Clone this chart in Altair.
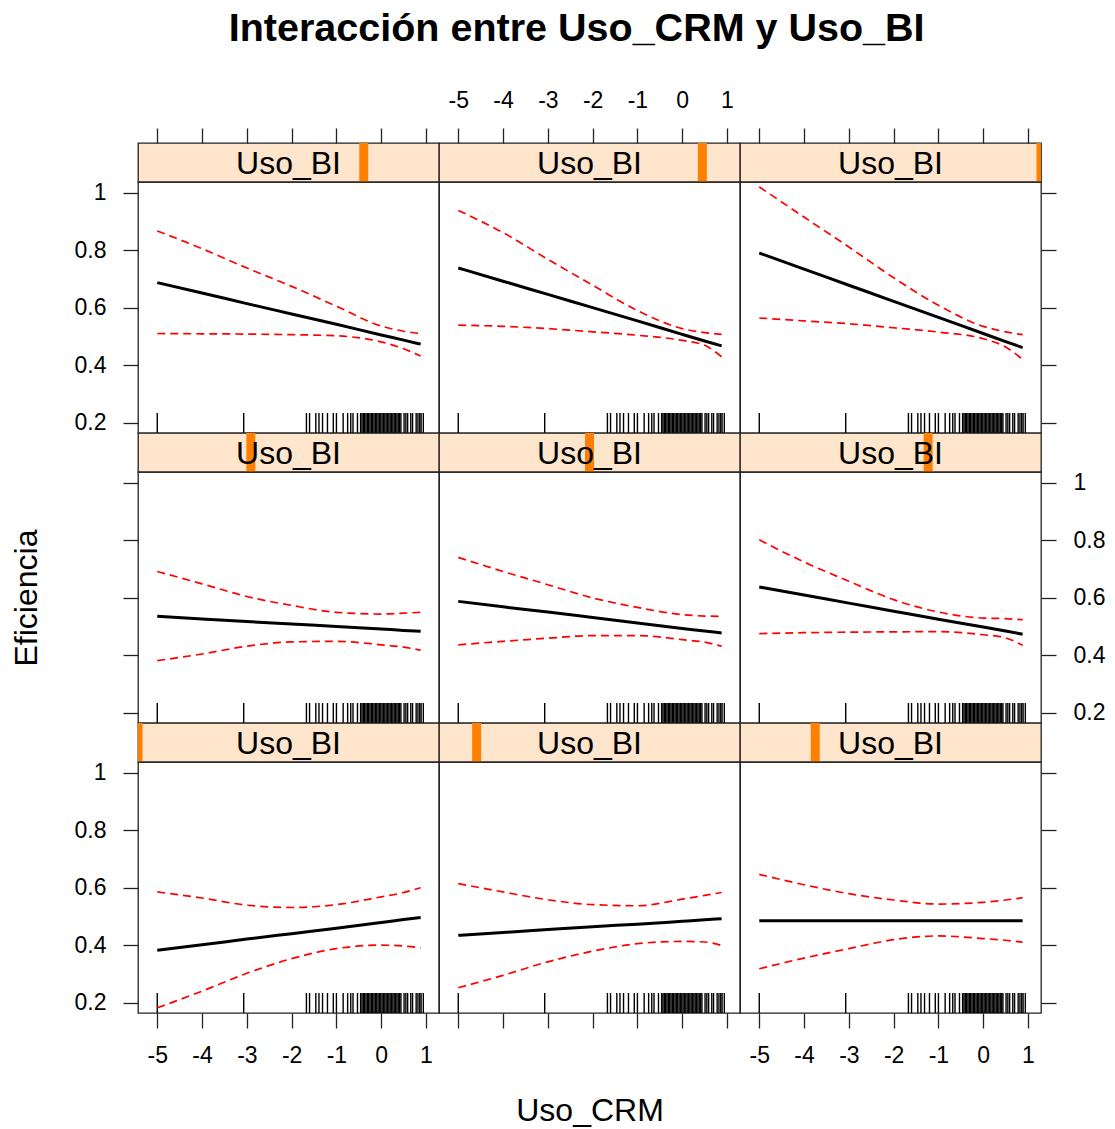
import altair as alt
import pandas as pd

title_text = "Interacción entre Uso_CRM y Uso_BI"
x_title = "Uso_CRM"
y_title = "Eficiencia"
strip_label = "Uso_BI"

# Uso_CRM evaluation points
crm_grid = [-5, -4, -3, -2, -1, 0, 0.5, 0.88]
x_ticks = [-5, -4, -3, -2, -1, 0, 1]
y_ticks = [0.2, 0.4, 0.6, 0.8, 1.0]

# panels in lattice order: bottom-left -> top-right
bi_levels = [0.0, 0.125, 0.25, 0.375, 0.5, 0.625, 0.75, 0.875, 1.0]

fit = [
    [0.383, 0.402, 0.422, 0.441, 0.460, 0.480, 0.490, 0.497],
    [0.435, 0.445, 0.455, 0.465, 0.474, 0.484, 0.489, 0.493],
    [0.486, 0.486, 0.486, 0.486, 0.486, 0.486, 0.486, 0.486],
    [0.536, 0.527, 0.518, 0.509, 0.501, 0.492, 0.487, 0.484],
    [0.588, 0.569, 0.551, 0.532, 0.513, 0.494, 0.485, 0.478],
    [0.638, 0.610, 0.582, 0.554, 0.526, 0.499, 0.485, 0.474],
    [0.688, 0.652, 0.615, 0.579, 0.543, 0.506, 0.488, 0.474],
    [0.739, 0.693, 0.647, 0.601, 0.555, 0.508, 0.485, 0.468],
    [0.791, 0.735, 0.679, 0.623, 0.567, 0.511, 0.483, 0.462],
]
upper = [
    [0.586, 0.565, 0.540, 0.532, 0.542, 0.569, 0.584, 0.601],
    [0.615, 0.586, 0.559, 0.542, 0.538, 0.561, 0.574, 0.584],
    [0.647, 0.611, 0.580, 0.558, 0.544, 0.550, 0.558, 0.566],
    [0.692, 0.649, 0.605, 0.574, 0.550, 0.544, 0.547, 0.550],
    [0.741, 0.692, 0.646, 0.600, 0.567, 0.542, 0.537, 0.536],
    [0.802, 0.725, 0.658, 0.594, 0.551, 0.530, 0.528, 0.524],
    [0.868, 0.806, 0.739, 0.675, 0.606, 0.537, 0.519, 0.511],
    [0.939, 0.862, 0.769, 0.679, 0.591, 0.528, 0.514, 0.508],
    [1.021, 0.916, 0.812, 0.705, 0.609, 0.536, 0.517, 0.507],
]
lower = [
    [0.183, 0.241, 0.303, 0.354, 0.389, 0.401, 0.398, 0.392],
    [0.253, 0.296, 0.343, 0.380, 0.406, 0.414, 0.412, 0.400],
    [0.319, 0.356, 0.389, 0.420, 0.433, 0.424, 0.418, 0.411],
    [0.382, 0.405, 0.432, 0.447, 0.449, 0.437, 0.429, 0.418],
    [0.437, 0.449, 0.460, 0.469, 0.469, 0.455, 0.446, 0.432],
    [0.476, 0.479, 0.481, 0.482, 0.483, 0.472, 0.461, 0.435],
    [0.511, 0.510, 0.509, 0.507, 0.503, 0.482, 0.458, 0.433],
    [0.540, 0.536, 0.528, 0.517, 0.505, 0.487, 0.470, 0.430],
    [0.565, 0.555, 0.545, 0.531, 0.516, 0.493, 0.464, 0.421],
]

rug_crm = [-5.0, -3.07, -1.67, -1.60, -1.46, -1.39, -1.31, -1.20, -1.07, -1.00,
           -0.85, -0.75, -0.68, -0.63, -0.53, -0.46, -0.43, -0.40, -0.37,
           -0.34, -0.31, -0.28, -0.25, -0.22, -0.19, -0.16, -0.13, -0.10,
           -0.07, -0.04, -0.01, 0.02, 0.05, 0.08, 0.11, 0.14, 0.17, 0.20,
           0.23, 0.26, 0.29, 0.32, 0.35, 0.38, 0.41, 0.44, 0.51, 0.55, 0.59,
           0.66, 0.70, 0.78, 0.82, 0.86, 0.89, 0.94]

FONT = "Liberation Sans"
W, H, SH = 301, 251, 39
X_DOM = [-5.43, 1.29]
Y_DOM = [0.165, 1.038]
STRIP_FILL = "#FFE5CC"
BAR_COLOR = "#FF8000"
TICK = 15

xscale = alt.Scale(domain=X_DOM, nice=False, zero=False)
yscale = alt.Scale(domain=Y_DOM, nice=False, zero=False)


def x_axis(orient, labels, title=False):
    kw = dict(orient=orient, values=x_ticks, labels=labels, ticks=True,
              tickSize=TICK, labelPadding=16, domain=False, grid=False,
              labelExpr="toString(datum.value)")
    if title:
        kw.update(titlePadding=67, titleFontSize=32, titleFontWeight="normal",
                  titleFont=FONT, titleColor="black")
    return alt.Axis(**kw)


def y_axis(orient, labels, title=False):
    kw = dict(orient=orient, values=y_ticks, labels=labels, ticks=True,
              tickSize=TICK, labelPadding=17, domain=False, grid=False,
              labelExpr="toString(datum.value)")
    if title:
        kw.update(titlePadding=79, titleFontSize=32, titleFontWeight="normal",
                  titleFont=FONT, titleColor="black")
    return alt.Axis(**kw)


def make_panel(p):
    r = 2 - p // 3   # row from top
    c = p % 3
    n = len(crm_grid)
    df = pd.DataFrame({
        "crm": crm_grid * 3,
        "val": fit[p] + lower[p] + upper[p],
        "band": ["fit"] * n + ["lower"] * n + ["upper"] * n,
    })
    rug = pd.DataFrame({"crm": rug_crm})

    if r == 2:
        xenc = alt.X("crm:Q", scale=xscale,
                     axis=x_axis("bottom", labels=(c != 1), title=(c == 1)),
                     title=(x_title if c == 1 else None))
    else:
        xenc = alt.X("crm:Q", scale=xscale, axis=None)
    if c == 0:
        yenc = alt.Y("val:Q", scale=yscale,
                     axis=y_axis("left", labels=(r != 1), title=(r == 1)),
                     title=(y_title if r == 1 else None))
    elif c == 2:
        yenc = alt.Y("val:Q", scale=yscale,
                     axis=y_axis("right", labels=(r == 1)), title=None)
    else:
        yenc = alt.Y("val:Q", scale=yscale, axis=None)

    base = alt.Chart(df).encode(x=xenc, y=yenc)
    ci = base.transform_filter(alt.datum.band != "fit").mark_line(
        color="#FF0000", strokeWidth=1.7, strokeDash=[8, 5],
        interpolate="monotone", clip=True).encode(detail="band:N")
    line = base.transform_filter(alt.datum.band == "fit").mark_line(
        color="black", strokeWidth=3, interpolate="monotone", clip=True)
    rugl = alt.Chart(rug).mark_rule(color="black", strokeWidth=1.4).encode(
        x=xenc, y=alt.value(H), y2=alt.value(H - 20))
    return alt.layer(rugl, ci, line).properties(width=W, height=H)


def make_strip(p):
    r = 2 - p // 3
    c = p % 3
    bar = alt.Chart(pd.DataFrame({"bi": [bi_levels[p]]})).mark_rule(
        color=BAR_COLOR, strokeWidth=9, clip=True).encode(
        x=alt.X("bi:Q", scale=alt.Scale(domain=[0, 1], nice=False, zero=False),
                axis=None),
        y=alt.value(0), y2=alt.value(SH))
    txt = alt.Chart(pd.DataFrame({"lab": [strip_label]})).mark_text(
        font=FONT, fontSize=32, color="black", baseline="middle",
        align="center").encode(
        text="lab:N", x=alt.value(W / 2), y=alt.value(SH / 2 + 1))
    layers = [bar, txt]
    if r == 0:
        carrier = alt.Chart(pd.DataFrame({"crm": x_ticks})).mark_point(
            opacity=0).encode(
            x=alt.X("crm:Q", scale=xscale,
                    axis=x_axis("top", labels=(c == 1)), title=None),
            y=alt.value(SH / 2))
        layers = [carrier, bar, txt]
    ch = alt.layer(*layers).properties(
        width=W, height=SH,
        view=alt.ViewBackground(fill=STRIP_FILL, stroke="#222222",
                                strokeWidth=1.3))
    if r == 0:
        ch = ch.resolve_scale(x="independent")
    return ch


views = []
for r in range(3):
    for c in range(3):
        views.append(make_strip((2 - r) * 3 + c))
    for c in range(3):
        views.append(make_panel((2 - r) * 3 + c))

chart = alt.concat(*views, columns=3, spacing=0, bounds="flush",
                   align="each").properties(
    title=alt.Title(title_text, font=FONT, fontSize=39.5, fontWeight="bold",
                    color="black", anchor="middle", offset=39, dx=19),
    padding={"left": 9, "top": 8, "right": 8, "bottom": 8},
).configure_view(
    stroke="#222222", strokeWidth=1.3
).configure_axis(
    labelFont=FONT, labelFontSize=23, labelColor="black",
    tickColor="#222222", tickWidth=1.3
)

chart.save("out.html", embed_options={"renderer": "svg", "actions": False})
